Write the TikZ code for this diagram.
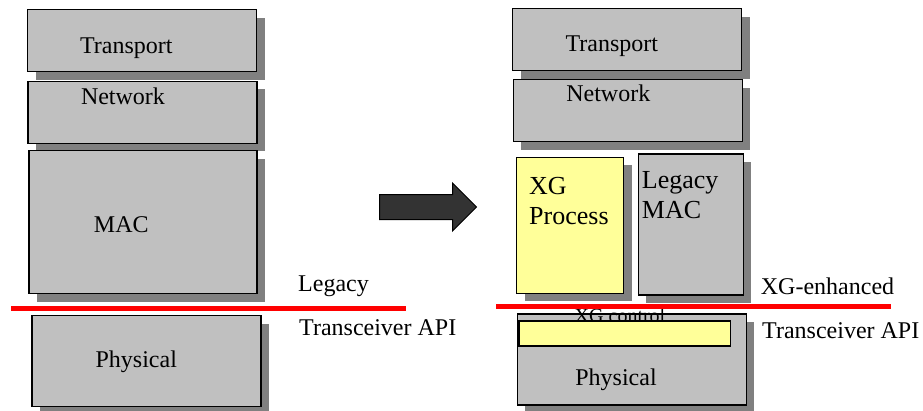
\documentclass[tikz,border=0pt]{standalone}
\usepackage{fontspec}
\setmainfont{Liberation Serif}
\usetikzlibrary{shadows,shapes.arrows}
\definecolor{layergray}{HTML}{C0C0C0}
\definecolor{shadowgray}{HTML}{808080}
\definecolor{xgyellow}{HTML}{FFFF99}
\definecolor{arrowgray}{HTML}{333333}
\begin{document}
\begin{tikzpicture}[x=1pt,y=-1pt]
        \tikzstyle{layer}=[rectangle,draw=black,line width=1.2pt,fill=layergray,inner sep=0pt,drop shadow={shadow xshift=8pt,shadow yshift=-8pt,fill=shadowgray,opacity=1}]
        \tikzstyle{xgbox}=[layer,fill=xgyellow]
        \tikzstyle{layertext}=[inner sep=0pt,anchor=base,font=\fontsize{24}{28}\selectfont]
        \tikzstyle{xgtext}=[inner sep=0pt,anchor=north west,align=left,font=\fontsize{26}{30.5}\selectfont]
        \tikzstyle{apitext}=[inner sep=0pt,anchor=base west,font=\fontsize{24}{28}\selectfont]
        \tikzstyle{apiline}=[draw=red,line width=5pt]
        \useasboundingbox (0,0) rectangle (923,410);
       \begin{scope}
         \node [layer,minimum width=229pt,minimum height=62pt] (ltrans) at (142.2,40.8) {};
         \node [layer,minimum width=229pt,minimum height=62pt] (lnet) at (142.5,112.2) {};
         \node [layer,minimum width=228pt,minimum height=143pt] (lmac) at (143,222.3) {};
         \node [layer,minimum width=229pt,minimum height=91pt] (lphy) at (146.5,361.2) {};
         \node [layertext] (ltranst) at (126.3,53.3) {Transport};
         \node [layertext] (lnett) at (123,104) {Network};
         \node [layertext] (lmact) at (121.3,232) {MAC};
         \node [layertext] (lphyt) at (136.3,367.3) {Physical};
         \coordinate (lapi1) at (11,308);
         \coordinate (lapi2) at (405.7,308);
         \path[apiline] (lapi1) -- (lapi2);
         \node [apitext] (llegacy) at (298,291.7) {Legacy};
         \node [apitext] (lapi) at (299,335) {Transceiver API};
        \end{scope}
        \node [single arrow,draw=black,line width=1pt,fill=arrowgray,minimum height=97pt,inner xsep=0pt,inner ysep=12pt,single arrow head extend=11.5pt,anchor=tail] (shift) at (379,207) {};
       \begin{scope}
         \node [layer,minimum width=229pt,minimum height=62pt] (rtrans) at (627,39.5) {};
         \node [layer,minimum width=229pt,minimum height=62pt] (rnet) at (627.8,110.5) {};
         \node [xgbox,minimum width=107pt,minimum height=136pt] (xgproc) at (570.3,225.3) {};
         \node [layer,minimum width=105pt,minimum height=141pt] (rmac) at (690.7,224.5) {};
         \node [layer,minimum width=229pt,minimum height=91pt] (rphy) at (631.7,359.5) {};
         \node [layertext] (rtranst) at (611.8,51.7) {Transport};
         \node [layertext] (rnett) at (608.3,101.7) {Network};
         \node [xgtext] (xgproct) at (529,177) {XG\\Process};
         \node [xgtext] (rmact) at (641.7,171) {Legacy\\MAC};
         \node [layertext] (rphyt) at (616,385) {Physical};
         \node [layertext,font=\fontsize{20}{24}\selectfont] (xgctlt) at (620,322.5) {XG control};
         \node [rectangle,draw=black,line width=1.2pt,fill=xgyellow,minimum width=211.7pt,minimum height=25pt] (xgctl) at (624.8,333.5) {};
         \coordinate (rapi1) at (496,306.7);
         \coordinate (rapi2) at (891,306.7);
         \path[apiline] (rapi1) -- (rapi2);
         \node [apitext] (renh) at (760.7,294) {XG-enhanced};
         \node [apitext] (rapi) at (762,338.3) {Transceiver API};
        \end{scope}
      \end{tikzpicture}
\end{document}
